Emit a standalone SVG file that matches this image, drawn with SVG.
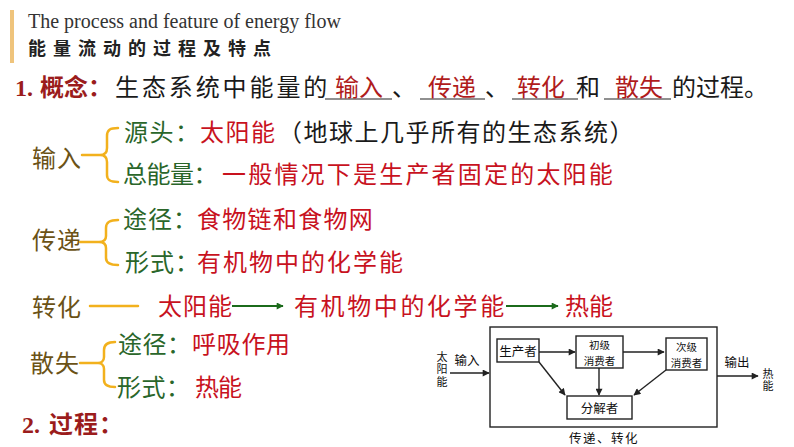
<svg xmlns="http://www.w3.org/2000/svg" width="794" height="447" viewBox="0 0 794 447">
<style>
.cjk{font-family:"Noto Sans CJK SC","Noto Sans",sans-serif;font-size:24px}
.bold{font-weight:bold}
.num{font-family:"Liberation Serif",serif;font-size:24px;font-weight:bold;fill:#9b1c1c}
.head{fill:#9b1c1c}
.blk{fill:#1a1a1a}
.ans{fill:#b01c1c}
.red{fill:#c8121e}
.grn{fill:#2a662a}
.olv{fill:#6b5216}
.brace{fill:none;stroke:#f2b11d;stroke-width:2.5;stroke-linecap:round}
.garrow{stroke:#1b6b1b;stroke-width:2;fill:none}
.uline{stroke:#222;stroke-width:1.2}
.box{fill:none;stroke:#222;stroke-width:1.4}
.dt{font-family:"Noto Sans CJK SC","Noto Sans",sans-serif;font-size:12.5px;fill:#111}
.dt2{font-family:"Noto Sans CJK SC","Noto Sans",sans-serif;font-size:10.5px;fill:#111}
.vt{font-family:"Noto Sans CJK SC","Noto Sans",sans-serif;font-size:11px;fill:#111;writing-mode:vertical-rl;letter-spacing:1.5px}
.dline{stroke:#222;stroke-width:1.4;fill:none}
</style>
<defs>
<marker id="ah" viewBox="0 0 10 10" refX="9" refY="5" markerWidth="8" markerHeight="7" markerUnits="userSpaceOnUse" orient="auto"><path d="M0,0 L10,5 L0,10 Z" fill="#222"/></marker>
<marker id="gah" viewBox="0 0 10 10" refX="9" refY="5" markerWidth="8" markerHeight="7" markerUnits="userSpaceOnUse" orient="auto"><path d="M0,0 L10,5 L0,10 Z" fill="#1b6b1b"/></marker>
</defs>
<rect width="794" height="447" fill="#ffffff"/>

<g id="title">
<rect x="10" y="10" width="4" height="53" fill="#efc47c"/>
<text x="28" y="28" font-family="Liberation Serif, serif" font-size="20" fill="#333">The process and feature of energy flow</text>
<text x="28" y="55" class="cjk bold" style="font-size:18px;letter-spacing:7px" fill="#222">能量流动的过程及特点</text>
</g>

<g id="concept">
<text x="15" y="96" class="num">1.</text>
<text x="40" y="96" class="cjk bold head">概念：</text>
<text x="115" y="96" class="cjk blk" style="letter-spacing:2.9px">生态系统中能量的</text>
<line x1="325" y1="99" x2="392" y2="99" class="uline"/>
<text x="335" y="96" class="cjk ans">输入</text>
<text x="392" y="96" class="cjk blk">、</text>
<line x1="420" y1="99" x2="485" y2="99" class="uline"/>
<text x="428" y="96" class="cjk ans">传递</text>
<text x="485" y="96" class="cjk blk">、</text>
<line x1="512" y1="99" x2="578" y2="99" class="uline"/>
<text x="517" y="96" class="cjk ans">转化</text>
<text x="576" y="96" class="cjk blk">和</text>
<line x1="604" y1="99" x2="671" y2="99" class="uline"/>
<text x="615" y="96" class="cjk ans">散失</text>
<text x="672" y="96" class="cjk blk">的过程。</text>
</g>

<g id="input">
<text x="32" y="167" class="cjk olv" style="letter-spacing:1px">输入</text>
<path class="brace" d="M82,155 H100 M118,128 C110,128 107,130 107,136 V148 C107,153 104,155 100,155 C104,155 107,157 107,162 V175 C107,180 110,182 118,182"/>
<text x="124" y="141" class="cjk grn" style="letter-spacing:1.5px">源头：</text>
<text x="200" y="141" class="cjk red" style="letter-spacing:1.5px">太阳能</text>
<text x="278" y="141" class="cjk blk" style="letter-spacing:1.5px">（地球上几乎所有的生态系统）</text>
<text x="123" y="183" class="cjk grn" style="letter-spacing:-0.5px">总能量：</text>
<text x="222" y="183" class="cjk red" style="letter-spacing:2.2px">一般情况下是生产者固定的太阳能</text>
</g>

<g id="transfer">
<text x="32" y="249" class="cjk olv" style="letter-spacing:1px">传递</text>
<path class="brace" d="M80,242 H99 M118,220 C110,220 106,222 106,228 V236 C106,240 103,242 99,242 C103,242 106,244 106,248 V258 C106,263 110,265 118,265"/>
<text x="123" y="228" class="cjk grn" style="letter-spacing:1px">途径：</text>
<text x="197" y="228" class="cjk red" style="letter-spacing:1.3px">食物链和食物网</text>
<text x="125" y="271" class="cjk grn" style="letter-spacing:1px">形式：</text>
<text x="197" y="271" class="cjk red" style="letter-spacing:2px">有机物中的化学能</text>
</g>

<g id="convert">
<text x="32" y="316" class="cjk olv" style="letter-spacing:1px">转化</text>
<line x1="90" y1="306" x2="138" y2="306" class="brace"/>
<text x="158" y="315" class="cjk red" style="letter-spacing:1px">太阳能</text>
<text x="294" y="315" class="cjk red" style="letter-spacing:2.6px">有机物中的化学能</text>
<text x="565" y="315" class="cjk red">热能</text>
</g>

<g id="loss">
<text x="30" y="372" class="cjk olv" style="letter-spacing:1px">散失</text>
<path class="brace" d="M80,363 H98 M115,342 C108,342 104,344 104,350 V357 C104,361 101,363 98,363 C101,363 104,365 104,369 V380 C104,385 108,387 115,387"/>
<text x="118" y="353" class="cjk grn" style="letter-spacing:0.5px">途径：</text>
<text x="192" y="353" class="cjk red" style="letter-spacing:0.7px">呼吸作用</text>
<text x="117" y="396" class="cjk grn" style="letter-spacing:0.5px">形式：</text>
<text x="195" y="396" class="cjk red" style="letter-spacing:-1px">热能</text>
</g>

<g id="process">
<text x="22" y="433" class="num">2.</text>
<text x="49" y="433" class="cjk bold head" style="letter-spacing:1px">过程：</text>
</g>

<g id="diagram-frame">
<rect x="490" y="327" width="227" height="100" class="box"/>
<text x="604" y="442.5" class="dt" text-anchor="middle" style="letter-spacing:1.5px">传递、转化</text>
</g>
<g id="sun">
<text x="442" y="351" class="vt">太阳能</text>
<text x="467" y="364.5" class="dt" text-anchor="middle">输入</text>
</g>
<g id="heat">
<text x="737" y="366.5" class="dt" text-anchor="middle">输出</text>
<text x="768" y="368" class="vt">热能</text>
</g>
<g id="producer">
<rect x="497" y="339" width="42" height="23" class="box"/>
<text x="518" y="355.5" class="dt" text-anchor="middle">生产者</text>
</g>
<g id="primary">
<rect x="576" y="336" width="47" height="32" class="box"/>
<text class="dt2" text-anchor="middle"><tspan x="599.5" y="349">初级</tspan><tspan x="599.5" y="364.5">消费者</tspan></text>
</g>
<g id="secondary">
<rect x="666" y="338" width="41" height="32" class="box"/>
<text class="dt2" text-anchor="middle"><tspan x="686.5" y="351">次级</tspan><tspan x="686.5" y="366.5">消费者</tspan></text>
</g>
<g id="decomposer">
<rect x="567" y="396" width="65" height="23" class="box"/>
<text x="599.5" y="412.5" class="dt" text-anchor="middle">分解者</text>
</g>

<g id="connectors">
<line x1="232" y1="306" x2="283" y2="306" class="garrow" marker-end="url(#gah)"/>
<line x1="506" y1="306" x2="558" y2="306" class="garrow" marker-end="url(#gah)"/>
<line x1="539" y1="352" x2="575" y2="352" class="dline" marker-end="url(#ah)"/>
<line x1="623" y1="352" x2="664" y2="352" class="dline" marker-end="url(#ah)"/>
<line x1="539" y1="362" x2="565" y2="395" class="dline" marker-end="url(#ah)"/>
<line x1="599" y1="368" x2="599" y2="395" class="dline" marker-end="url(#ah)"/>
<line x1="666" y1="370" x2="634" y2="395" class="dline" marker-end="url(#ah)"/>
<line x1="450" y1="373" x2="489" y2="373" class="dline" marker-end="url(#ah)"/>
<line x1="717" y1="376" x2="758" y2="376" class="dline" marker-end="url(#ah)"/>
</g>
</svg>
